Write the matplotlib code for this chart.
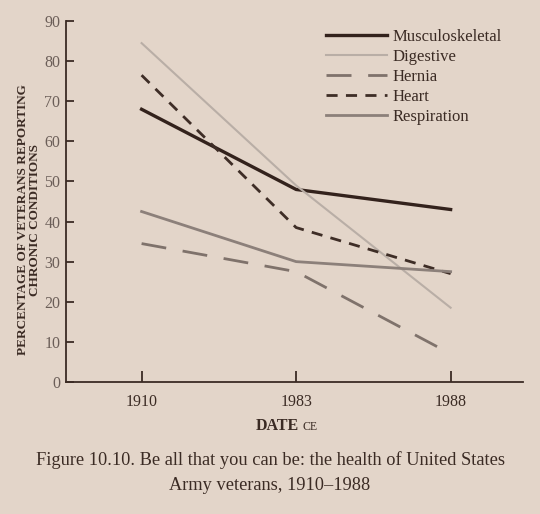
import matplotlib
matplotlib.use("Agg")
import matplotlib.pyplot as plt

years = ["1910", "1983", "1988"]
musculoskeletal = [68, 48, 43]
digestive = [84.5, 49, 18.5]
hernia = [34.5, 27.5, 7]
heart = [76.5, 38.5, 27]
respiration = [42.5, 30, 27.5]
yticks = [0, 10, 20, 30, 40, 50, 60, 70, 80, 90]

bg = "#e3d5c9"
ink = "#3b2b24"
serif = ["Liberation Serif", "DejaVu Serif"]
plt.rcParams["font.family"] = serif

fig = plt.figure(figsize=(5.4, 5.14), dpi=100, facecolor=bg)
ax = fig.add_axes([0.122, 0.257, 0.847, 0.702], facecolor=bg)

x = list(range(len(years)))
ax.plot(x, musculoskeletal, color="#33221c", lw=2.4, label="Musculoskeletal")
ax.plot(x, digestive, color="#b9aea6", lw=1.5, label="Digestive")
ax.plot(x, hernia, color="#7f726b", lw=2.0, dashes=(9, 6), label="Hernia")
ax.plot(x, heart, color="#3e2d26", lw=2.0, dashes=(4, 3), label="Heart")
ax.plot(x, respiration, color="#8c807a", lw=2.0, label="Respiration")

ax.set_xlim(-0.49, 2.47)
ax.set_ylim(0, 90)
ax.set_xticks(x)
ax.set_xticklabels(years)
ax.set_yticks(yticks)
for s in ["top", "right"]:
    ax.spines[s].set_visible(False)
for s in ["left", "bottom"]:
    ax.spines[s].set_color(ink)
    ax.spines[s].set_linewidth(1.3)
ax.tick_params(axis="y", direction="in", length=6, width=1.3, color=ink,
               labelcolor="#6b5e58", labelsize=11.5, pad=4)
ax.tick_params(axis="x", direction="in", length=8, width=1.3, color=ink,
               labelcolor=ink, labelsize=11.5, pad=9)

ax.set_ylabel("PERCENTAGE OF VETERANS REPORTING\nCHRONIC CONDITIONS",
              fontsize=9.5, fontweight="bold", color=ink, linespacing=0.95)
ax.yaxis.set_label_coords(-0.055, 0.449)

fig.text(0.554, 0.163, "DATE", fontsize=11.5, fontweight="bold", color=ink,
         ha="right", va="baseline")
fig.text(0.560, 0.163, "CE", fontsize=8.5, color=ink, ha="left", va="baseline")

leg = ax.legend(loc="upper right", bbox_to_anchor=(0.967, 0.997), frameon=False,
                fontsize=12, handlelength=3.7, handletextpad=0.3, labelspacing=0.24,
                borderaxespad=0.0)
for t in leg.get_texts():
    t.set_color(ink)

fig.text(0.5, 0.095, "Figure 10.10. Be all that you can be: the health of United States",
         ha="center", fontsize=13.2, color=ink)
fig.text(0.5, 0.046, "Army veterans, 1910\u20131988", ha="center", fontsize=13.2, color=ink)

fig.savefig("out.png", dpi=100, facecolor=bg)
